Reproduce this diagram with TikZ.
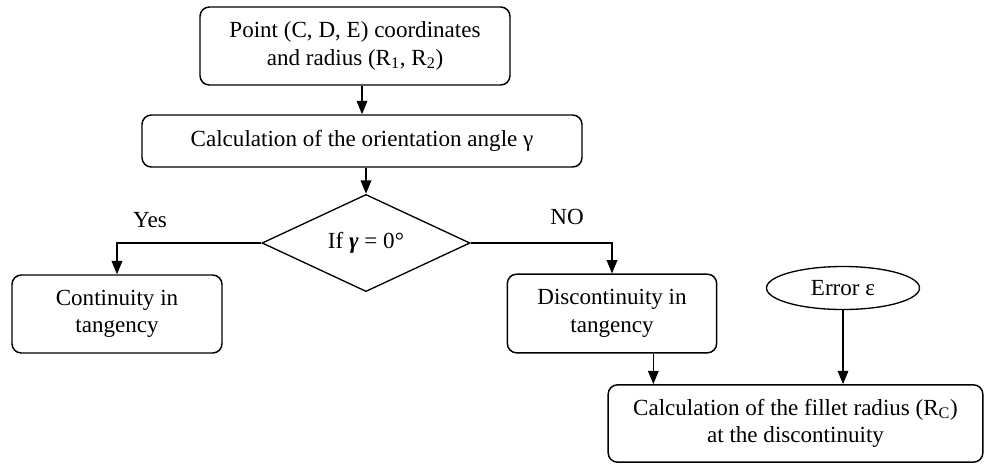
\documentclass[tikz,border=0pt]{standalone}
\usepackage{fontspec}
\setmainfont{Liberation Serif}
\usetikzlibrary{arrows.meta,positioning,shapes.geometric}

\begin{document}
\begin{tikzpicture}[
  x=0.75pt,y=-0.75pt,
  font=\fontsize{17.3}{20.5}\selectfont,
  box/.style={draw,line width=1.1pt,rounded corners=7pt,align=center,inner sep=0pt},
  decision/.style={draw,line width=1pt,diamond,inner sep=0pt,align=center},
  term/.style={draw,line width=1pt,ellipse,inner sep=0pt,align=center},
  arrow/.style={-{Triangle[length=10pt,width=8pt]},line width=1pt}
]
\useasboundingbox (0,0) rectangle (995,465);
\node[box,minimum width=232.5pt,minimum height=58.5pt] (input) at (355,46)
  {Point (C, D, E) coordinates\\and radius (R\textsubscript{1}, R\textsubscript{2})};
\node[box,minimum width=330pt,minimum height=39pt] (angle) at (362,141)
  {Calculation of the orientation angle γ};
\node[decision,minimum width=156pt,minimum height=66.75pt] (test) at (366,243)
  {If \textbf{\textit{γ}} = 0°};
\node[box,minimum width=157.5pt,minimum height=58.5pt] (cont) at (117,314)
  {Continuity in\\tangency};
\node[box,minimum width=157pt,minimum height=59pt] (disc) at (612,313.5)
  {Discontinuity in\\tangency};
\node[term,minimum width=114.75pt,minimum height=32.25pt] (error) at (843,288)
  {Error ε};
\node[box,minimum width=281pt,minimum height=58pt] (fillet) at (795.5,423.5)
  {Calculation of the fillet radius (R\textsubscript{C})\\at the discontinuity};
\node (yes) at (150,220) {Yes};
\node (no) at (567,217) {NO};
\draw[arrow] (input.south -| angle.north) -- (angle.north);
\draw[arrow] (angle.south -| test.north) -- (test.north);
\draw[arrow] (test.west) -| (cont.north);
\draw[arrow] (test.east) -| (disc.north);
\draw[arrow] ([xshift=31pt]disc.south) -- ([xshift=31pt]disc.south |- fillet.north);
\draw[arrow] (error.south) -- (error.south |- fillet.north);
\end{tikzpicture}
\end{document}
